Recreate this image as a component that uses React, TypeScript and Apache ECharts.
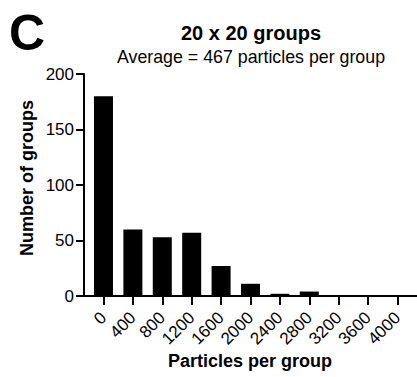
import React, { useEffect, useRef } from "react";
import * as echarts from "echarts";

const binStarts = [0, 400, 800, 1200, 1600, 2000, 2400, 2800, 3200, 3600, 4000];
const groupCounts = [180, 60, 53, 57, 27, 11, 2, 4, 0, 0, 0];
const yTicks = [0, 50, 100, 150, 200];
const panelLetter = "C";
const titleText = "20 x 20 groups";
const subtitleText = "Average = 467 particles per group";
const xName = "Particles per group";
const yName = "Number of groups";

const FONT = "'Liberation Sans', Arial, Helvetica, sans-serif";

export default function App() {
  const ref = useRef<HTMLDivElement>(null);
  useEffect(() => {
    if (!ref.current) return;
    const chart = echarts.init(ref.current, null, { renderer: "svg" });
    chart.setOption({
      animation: false,
      backgroundColor: "#ffffff",
      textStyle: { fontFamily: FONT, color: "#000" },
      grid: { left: 84, right: 0, top: 74, bottom: 81, containLabel: false },
      xAxis: {
        type: "value",
        min: -265,
        max: 4265,
        splitLine: { show: false },
        axisLine: { show: true, onZero: false, lineStyle: { color: "#000", width: 2 } },
        axisTick: {
          show: true,
          customValues: binStarts,
          length: 9,
          inside: false,
          lineStyle: { color: "#000", width: 2 },
        },
        axisLabel: {
          customValues: binStarts,
          rotate: 45,
          margin: 19,
          fontSize: 17,
          color: "#000",
          fontFamily: FONT,
          formatter: (v: number) => String(v),
        },
      },
      yAxis: {
        type: "value",
        min: 0,
        max: 200,
        interval: 50,
        splitLine: { show: false },
        axisLine: { show: true, onZero: false, lineStyle: { color: "#000", width: 2 } },
        axisTick: { show: true, length: 8, lineStyle: { color: "#000", width: 2 } },
        axisLabel: {
          margin: 10,
          fontSize: 17,
          color: "#000",
          fontFamily: FONT,
          formatter: (v: number) => (yTicks.includes(v) ? String(v) : ""),
        },
      },
      series: [
        {
          type: "bar",
          data: binStarts.map((b, i) => [b, groupCounts[i]]),
          barWidth: 19,
          itemStyle: { color: "#000" },
        },
      ],
      graphic: [
        {
          type: "text",
          left: 9,
          top: 8,
          style: { text: panelLetter, font: `bold 50px ${FONT}`, fill: "#000" },
        },
        {
          type: "text",
          x: 251,
          y: 33,
          style: {
            text: titleText,
            font: `bold 20px ${FONT}`,
            fill: "#000",
            textAlign: "center",
            textVerticalAlign: "middle",
          },
        },
        {
          type: "text",
          x: 251,
          y: 57,
          style: {
            text: subtitleText,
            font: `17.8px ${FONT}`,
            fill: "#000",
            textAlign: "center",
            textVerticalAlign: "middle",
          },
        },
        {
          type: "text",
          x: 250,
          y: 361,
          style: {
            text: xName,
            font: `bold 18px ${FONT}`,
            fill: "#000",
            textAlign: "center",
            textVerticalAlign: "middle",
          },
        },
        {
          type: "text",
          x: 27,
          y: 178,
          rotation: Math.PI / 2,
          style: {
            text: yName,
            font: `bold 18px ${FONT}`,
            fill: "#000",
            textAlign: "center",
            textVerticalAlign: "middle",
          },
        },
      ],
    });
    return () => chart.dispose();
  }, []);
  return (
    <div
      ref={ref}
      style={{ position: "absolute", left: 0, top: 0, width: 417, height: 377 }}
    />
  );
}
